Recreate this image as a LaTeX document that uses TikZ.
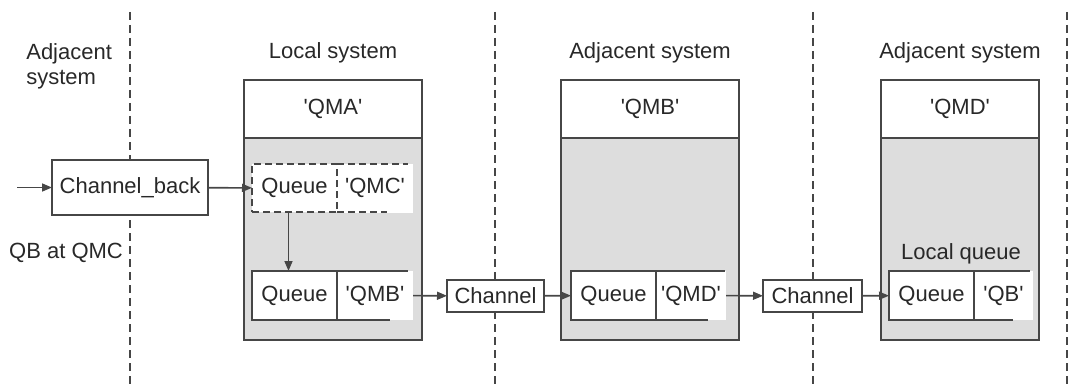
\documentclass[tikz,border=0pt]{standalone}
\usepackage{fontspec}
\setmainfont{Liberation Sans}
\usetikzlibrary{arrows.meta,positioning,calc}
\definecolor{linegray}{RGB}{70,70,70}
\definecolor{boxgray}{RGB}{221,221,221}
\definecolor{textgray}{RGB}{40,40,40}
\newcommand{\qmname}[1]{\textquotesingle#1\textquotesingle}

\begin{document}
\begin{tikzpicture}[x=1pt,y=-1pt,
  every node/.style={font=\fontsize{22}{25}\selectfont, text=textgray, outer sep=0pt},
  syshead/.style={draw=linegray, line width=2pt, fill=white, minimum height=58pt},
  sysbody/.style={draw=linegray, line width=2pt, fill=boxgray, minimum height=202pt},
  queuebox/.style={draw=linegray, line width=1.8pt, fill=white, minimum width=85pt,
    minimum height=49pt, inner sep=0pt},
  queuename/.style={fill=white, minimum height=49pt, inner sep=0pt},
  qline/.style={draw=linegray, line width=1.8pt},
  qdash/.style={dash pattern=on 7pt off 4pt},
  chanbox/.style={draw=linegray, line width=2pt, fill=white, minimum height=32pt},
  arr/.style={-{Triangle[length=10pt,width=8pt]}, draw=linegray, line width=1.6pt},
  sepline/.style={draw=linegray, line width=1.7pt, dash pattern=on 8pt off 5pt}]
  \useasboundingbox (0,0) rectangle (1070,385);

  % system borders
  \foreach \sx in {130,495,813,1067}
    \draw[sepline] (\sx,12) -- (\sx,385);

  % system titles
  \node[anchor=west, align=left] (lblLeft) at (23,66.5) {Adjacent\\system};
  \node (lblLocal) at (333,53) {Local system};
  \node (lblAdjB) at (650,53) {Adjacent system};
  \node (lblAdjD) at (960,53) {Adjacent system};
  \node (lblQB) at (66,253) {QB at QMC};

  % queue managers
  \node[syshead, minimum width=178pt] (qmaHead) at (333,109) {\qmname{QMA}};
  \node[sysbody, minimum width=178pt, below=0pt of qmaHead] (qmaBody) {};
  \node[syshead, minimum width=178pt] (qmbHead) at (650,109) {\qmname{QMB}};
  \node[sysbody, minimum width=178pt, below=0pt of qmbHead] (qmbBody) {};
  \node[syshead, minimum width=158pt] (qmdHead) at (960,109) {\qmname{QMD}};
  \node[sysbody, minimum width=158pt, below=0pt of qmdHead] (qmdBody) {};
  \node (lblLocalQ) at (961,254) {Local queue};

  % queues
  \node[queuename, minimum width=76pt] (qmcR) at (375,188) {\qmname{QMC}};
  \node[queuebox, qdash, minimum height=48pt, left=0pt of qmcR] (qmcL) {Queue};
  \draw[qline, qdash] (qmcL.north east) -- ++(71,0);
  \draw[qline, qdash] (qmcL.south east) -- ++(50,0);

  \node[queuename, minimum width=76pt] (qmbR) at (375,295.5) {\qmname{QMB}};
  \node[queuebox, left=0pt of qmbR] (qmbL) {Queue};
  \draw[qline] (qmbL.north east) -- ++(71,0);
  \draw[qline] (qmbL.south east) -- ++(53,0);

  \node[queuename, minimum width=70pt] (qmdR) at (691,295.5) {\qmname{QMD}};
  \node[queuebox, left=0pt of qmdR] (qmdL) {Queue};
  \draw[qline] (qmdL.north east) -- ++(69,0);
  \draw[qline] (qmdL.south east) -- ++(52,0);

  \node[queuename, minimum width=59pt] (qbR) at (1003.5,295.5) {\qmname{QB}};
  \node[queuebox, left=0pt of qbR] (qbL) {Queue};
  \draw[qline] (qbL.north east) -- ++(56,0);
  \draw[qline] (qbL.south east) -- ++(39,0);

  % channels
  \node[chanbox, minimum width=156pt, minimum height=55pt] (chback) at (130,187.5) {Channel\_back};
  \node[chanbox, minimum width=97pt] (ch1) at (495.5,296) {Channel};
  \node[chanbox, minimum width=99pt] (ch2) at (812.5,296) {Channel};

  % message flow
  \coordinate (inlet) at (17,187.5);
  \draw[arr] (inlet) -- (chback);
  \draw[arr] (chback) -- (qmcL);
  \draw[arr] ([xshift=-6pt]qmcL.south) -- ([xshift=-6pt]qmbL.north);
  \draw[arr] (qmbR) -- (ch1);
  \draw[arr] (ch1) -- (qmdL);
  \draw[arr] (qmdR) -- (ch2);
  \draw[arr] (ch2) -- (qbL);
\end{tikzpicture}
\end{document}
